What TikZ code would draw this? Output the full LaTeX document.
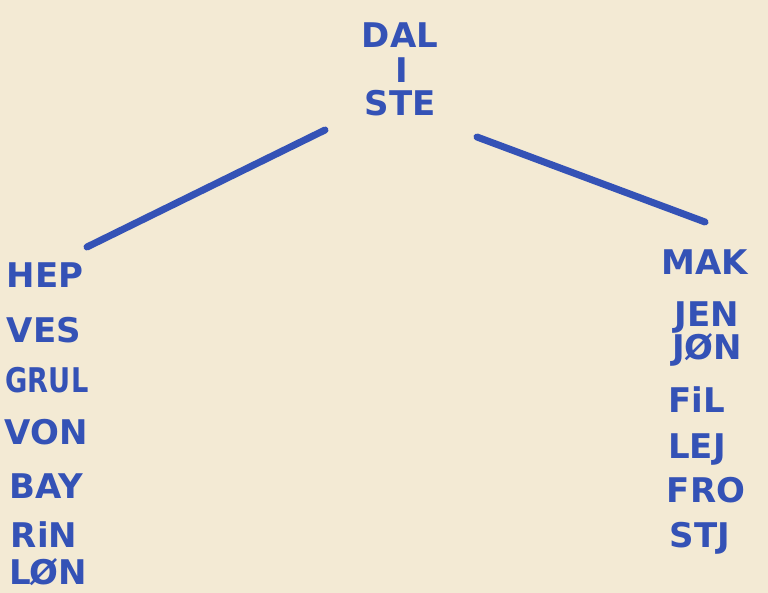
\documentclass[tikz,border=0pt]{standalone}
\usepackage{fontspec}
\setmainfont{DejaVu Sans}
\definecolor{paper}{RGB}{243,234,212}
\definecolor{ink}{RGB}{52,82,182}
\begin{document}
\begin{tikzpicture}[x=1pt,y=-1pt,
  lbl/.style={text=ink,font=\fontsize{34}{38}\selectfont\bfseries,inner sep=0pt,anchor=center},
  stroke/.style={draw=ink,line width=7pt,line cap=round}]
\fill[paper] (0,0) rectangle (768,593);
\useasboundingbox (0,0) rectangle (768,593);
\node[lbl] (dal) at (400,35) {DAL};
\node[lbl] (og) at (402,70) {I};
\node[lbl] (ste) at (400,103) {STE};
% left column
\node[lbl] (hep) at (45,275) {HEP};
\node[lbl] (ves) at (44,330) {VES};
\node[lbl,xscale=0.8] (gru) at (47,380) {GRUL};
\node[lbl] (von) at (46,432) {VON};
\node[lbl] (bay) at (46,486) {BAY};
\node[lbl] (rin) at (44,535) {RiN};
\node[lbl] (lon) at (48,572) {LØN};
% right column
\node[lbl] (mak) at (705,262) {MAK};
\node[lbl] (jen) at (707,318) {JEN};
\node[lbl] (jon) at (707,350) {JØN};
\node[lbl] (fil) at (697,400) {FiL};
\node[lbl] (lej) at (697,450) {LEJ};
\node[lbl] (fro) at (706,490) {FRO};
\node[lbl] (stj) at (700,538) {STJ};
% connectors
\coordinate (lt) at (325,130);
\coordinate (lb) at (87,247);
\coordinate (rt) at (477,137);
\coordinate (rb) at (705,222);
\draw[stroke] (lt) -- (lb);
\draw[stroke] (rt) -- (rb);
\end{tikzpicture}
\end{document}
